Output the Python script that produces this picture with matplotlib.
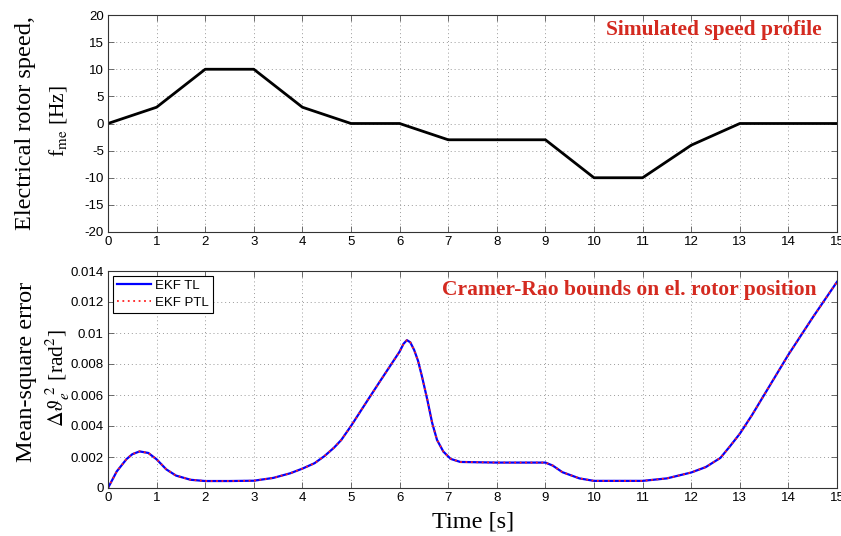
import matplotlib
matplotlib.use("Agg")
import matplotlib.pyplot as plt
from matplotlib.ticker import FixedLocator, FixedFormatter

plt.rcParams['mathtext.fontset'] = 'stix'

# ---------------- data ----------------
t_speed = [0, 1, 2, 3, 4, 5, 6, 7, 8, 9, 10, 11, 12, 13, 14, 15]
speed_hz = [0, 3, 10, 10, 3, 0, 0, -3, -3, -3, -10, -10, -4, 0, 0, 0]

t_err = [0, 0.18, 0.38, 0.5, 0.65, 0.83, 1.0, 1.2, 1.4, 1.7, 2.0, 2.5, 3.0,
         3.4, 3.75, 4.0, 4.25, 4.45, 4.65, 4.8, 5.0, 5.35, 5.6, 6.0, 6.08,
         6.15, 6.22, 6.3, 6.38, 6.46, 6.57, 6.67, 6.77, 6.9, 7.05, 7.25, 8.0,
         9.0, 9.15, 9.35, 9.7, 10.0, 11.0, 11.5, 12.0, 12.3, 12.6, 12.8, 13.0,
         13.25, 13.5, 14.0, 14.5, 15.0]
err_tl = [0, 0.00107, 0.00186, 0.00218, 0.00236, 0.00226, 0.00185, 0.0012,
          0.0008, 0.00053, 0.00045, 0.00045, 0.00047, 0.00065, 0.00095,
          0.00125, 0.0016, 0.00205, 0.0026, 0.0031, 0.0040, 0.0057, 0.0069,
          0.0088, 0.0093, 0.00954, 0.0094, 0.0089, 0.0082, 0.0072, 0.0057,
          0.0042, 0.0031, 0.00235, 0.00188, 0.00168, 0.00164, 0.00164,
          0.00145, 0.00102, 0.00062, 0.00046, 0.00046, 0.00062, 0.0010,
          0.00135, 0.00194, 0.0027, 0.0035, 0.0047, 0.0060, 0.0086, 0.0110,
          0.0133]
err_ptl = list(err_tl)

x_ticks = list(range(0, 16))
speed_ticks = [-20, -15, -10, -5, 0, 5, 10, 15, 20]
err_ticks = [0, 0.002, 0.004, 0.006, 0.008, 0.01, 0.012, 0.014]
err_tick_labels = ['0', '0.002', '0.004', '0.006', '0.008', '0.01', '0.012', '0.014']

# ---------------- figure ----------------
W, H = 841, 536
fig = plt.figure(figsize=(W / 100, H / 100), dpi=100)

def px_axes(left, top, right, bottom):
    return fig.add_axes([left / W, 1 - bottom / H, (right - left) / W, (bottom - top) / H])

def ftext(x, y, s, **kw):
    return fig.text(x / W, 1 - y / H, s, **kw)

ax1 = px_axes(108, 15, 837, 232)
ax2 = px_axes(108, 271, 837, 488)

tick_font = dict(family='Liberation Sans', size=9.5)
red = '#d42a20'

for ax in (ax1, ax2):
    ax.set_xlim(0, 15)
    ax.xaxis.set_major_locator(FixedLocator(x_ticks))
    ax.set_xticklabels([str(v) for v in x_ticks], **tick_font)
    ax.tick_params(direction='in', length=4, width=0.6, top=True, right=True,
                   color='#555555', pad=3)
    ax.grid(True, linestyle=(0, (1, 3)), color='#999999', linewidth=0.7)
    for s in ax.spines.values():
        s.set_linewidth(0.8)
        s.set_color('#333333')

# top panel
ax1.plot(t_speed, speed_hz, color='black', lw=2.0)
ax1.set_ylim(-20, 20)
ax1.yaxis.set_major_locator(FixedLocator(speed_ticks))
ax1.set_yticklabels([str(v) for v in speed_ticks], **tick_font)

# bottom panel
ax2.plot(t_err, err_tl, color='#0000ff', lw=1.6, label='EKF TL')
ax2.plot(t_err, err_ptl, color='#ff2020', lw=1.3, linestyle=(0, (1, 2)), label='EKF PTL')
ax2.set_ylim(0, 0.014)
ax2.yaxis.set_major_locator(FixedLocator(err_ticks))
ax2.yaxis.set_major_formatter(FixedFormatter(err_tick_labels))
for lab in ax2.get_yticklabels():
    lab.set_family('Liberation Sans'); lab.set_size(9.5)
leg = ax2.legend(loc='upper left', prop=dict(family='Liberation Sans', size=9.5),
                 fancybox=False, edgecolor='black', framealpha=1,
                 borderaxespad=0.35, handlelength=2.6, labelspacing=0.35,
                 borderpad=0.3, handletextpad=0.3)
leg.get_frame().set_linewidth(0.8)

# annotations
ftext(822, 30, 'Simulated speed profile', ha='right', va='center', color=red,
      fontsize=15.5, family='Liberation Serif', weight='bold')
ftext(817, 290, 'Cramer-Rao bounds on el. rotor position', ha='right',
      va='center', color=red, fontsize=15.5, family='Liberation Serif',
      weight='bold')

# axis labels (MATLAB-like two-line labels)
lab_kw = dict(rotation=90, ha='center', va='center', family='Liberation Serif')
ftext(26, 123, 'Electrical rotor speed,', fontsize=17.5, **lab_kw)
ftext(58, 121, r'f$_{\mathrm{me}}$ [Hz]', fontsize=15.5, **lab_kw)
ftext(27, 372, 'Mean-square error', fontsize=17.5, **lab_kw)
ftext(58, 378, r'$\Delta\vartheta_{e}^{\;2}$ [rad$^2$]', fontsize=15.5, **lab_kw)
ftext(473, 522, 'Time [s]', ha='center', va='center', family='Liberation Serif',
      fontsize=17.5)

fig.savefig('out.png', dpi=100)
